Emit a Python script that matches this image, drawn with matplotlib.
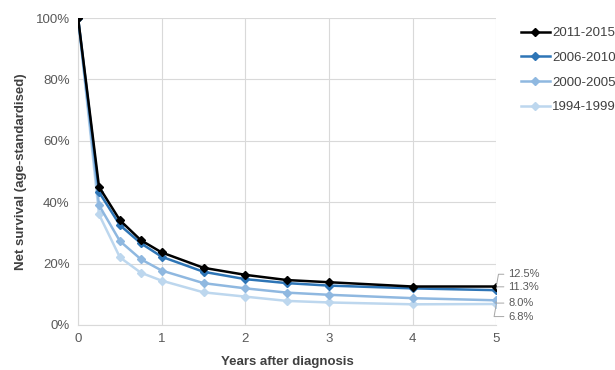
import matplotlib.pyplot as plt
from matplotlib.ticker import FuncFormatter

plt.rcParams['font.family'] = ['Liberation Sans', 'DejaVu Sans']

years = [0, 0.25, 0.5, 0.75, 1, 1.5, 2, 2.5, 3, 4, 5]
periods = ['2011-2015', '2006-2010', '2000-2005', '1994-1999']
s_2011 = [100, 45.0, 34.1, 27.6, 23.6, 18.6, 16.3, 14.6, 13.9, 12.5, 12.5]
s_2006 = [100, 43.3, 32.5, 26.6, 22.2, 17.3, 14.9, 13.6, 12.8, 11.9, 11.3]
s_2000 = [100, 39.0, 27.3, 21.4, 17.7, 13.6, 11.9, 10.5, 9.8, 8.7, 8.0]
s_1994 = [100, 36.0, 22.0, 17.0, 14.4, 10.6, 9.2, 7.8, 7.3, 6.7, 6.8]
end_labels = ['12.5%', '11.3%', '8.0%', '6.8%']

colors = ['#000000', '#2e75b6', '#8fb8e0', '#bdd7ee']
series = [s_2011, s_2006, s_2000, s_1994]

fig = plt.figure(figsize=(6.15, 3.7), dpi=100)
ax = fig.add_axes([0.127, 0.122, 0.680, 0.829])

# draw oldest first so newer periods sit on top
for name, vals, col in reversed(list(zip(periods, series, colors))):
    ax.plot(years, vals, color=col, lw=1.8, marker='D', markersize=4,
            label=name, zorder=3)

ax.set_xlim(0, 5)
ax.set_ylim(0, 100)
ax.set_yticks(range(0, 101, 20))
ax.set_xticks(range(0, 6))
ax.yaxis.set_major_formatter(FuncFormatter(lambda v, p: f'{v:.0f}%'))
ax.grid(True, color='#d9d9d9', lw=0.8)
ax.set_axisbelow(True)
for s in ['top', 'right']:
    ax.spines[s].set_visible(False)
for s in ['left', 'bottom']:
    ax.spines[s].set_color('#d9d9d9')
ax.tick_params(length=0, labelsize=9.5, colors='#595959', pad=6)

ax.set_ylabel('Net survival (age-standardised)', fontsize=9.5, fontweight='bold',
              color='#404040', labelpad=6)
ax.set_xlabel('Years after diagnosis', fontsize=9.5, fontweight='bold',
              color='#404040', labelpad=8)

# end-point labels with leader lines
label_y = [16.5, 12.4, 7.1, 2.7]
for vals, txt, ly in zip(series, end_labels, label_y):
    ax.annotate(txt, xy=(years[-1], vals[-1]), xytext=(years[-1] + 0.14, ly),
                fontsize=8, color='#595959', va='center', ha='left',
                annotation_clip=False,
                arrowprops=dict(arrowstyle='-', color='#a6a6a6', lw=0.7,
                                shrinkA=1, shrinkB=1,
                                connectionstyle='angle,angleA=0,angleB=80,rad=0'))

handles, labels = ax.get_legend_handles_labels()
leg = ax.legend(handles[::-1], labels[::-1], loc='upper left',
                bbox_to_anchor=(1.03, 1.01), frameon=False, fontsize=9.5,
                handlelength=2.2, handletextpad=0.2, labelspacing=0.95,
                labelcolor='#404040')

fig.savefig('out.png', dpi=100)
